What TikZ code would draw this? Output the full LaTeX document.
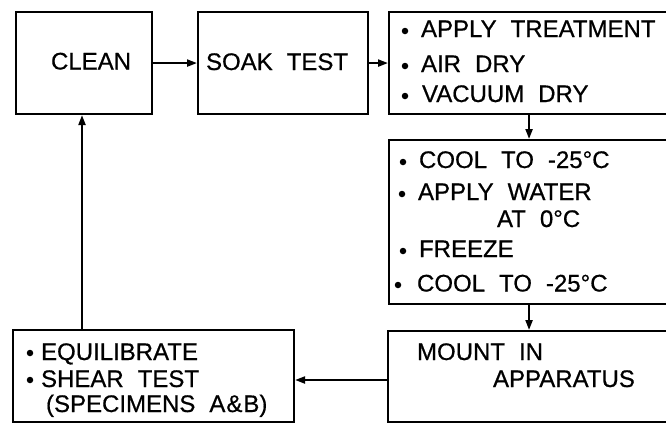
\documentclass[tikz,border=0pt]{standalone}
\usepackage{fontspec}
\setmainfont[FakeBold=0.6]{Liberation Sans}
\usetikzlibrary{arrows.meta}
\newcommand{\diagfont}{\fontsize{24}{28}\selectfont\spaceskip 14pt\relax}
\begin{document}
\begin{tikzpicture}[x=1pt,y=-1pt, line width=2.1pt,
  box/.style={draw, inner sep=0pt, anchor=north west},
  txt/.style={anchor=base west, inner sep=0pt, font={\diagfont}},
  dot/.style={circle, fill, draw=none, inner sep=0pt, minimum size=6.5pt},
  arr/.style={-{Triangle[length=10pt,width=7pt]}}]
\useasboundingbox (0,0) rectangle (666,424);
% boxes
\node[box, minimum width=136pt, minimum height=102pt] (clean) at (15,11) {};
\node[box, minimum width=170pt, minimum height=102pt] (soak) at (197,11) {};
\node[box, minimum width=280pt, minimum height=102pt] (treat) at (388,11) {};
\node[box, minimum width=280pt, minimum height=164pt] (cool) at (388,139) {};
\node[box, minimum width=281pt, minimum height=91pt] (mount) at (387,330) {};
\node[box, minimum width=281pt, minimum height=92pt] (shear) at (12,329) {};
% texts
\node[txt] (tclean) at (50,69.5) {CLEAN};
\node[txt] (tsoak) at (205,70) {SOAK TEST};
\node[txt] (t1) at (420,37) {APPLY TREATMENT};
\node[txt] (t2) at (420,72) {AIR DRY};
\node[txt] (t3) at (421,102) {VACUUM DRY};
\node[dot] (d1) at (405,31) {};
\node[dot] (d2) at (405,66) {};
\node[dot] (d3) at (405,96) {};
\node[txt] (c1) at (418,168) {COOL TO -25°C};
\node[txt] (c2) at (417,200) {APPLY WATER};
\node[txt] (c3) at (496,227) {AT 0°C};
\node[txt] (c4) at (418,257) {FREEZE};
\node[txt] (c5) at (416,291.5) {COOL TO -25°C};
\node[dot] (e1) at (403,162) {};
\node[dot] (e2) at (402,194) {};
\node[dot] (e4) at (403,251) {};
\node[dot] (e5) at (398,285) {};
\node[txt] (m1) at (416,360) {MOUNT IN};
\node[txt] (m2) at (492,387) {APPARATUS};
\node[txt] (s1) at (40,360) {EQUILIBRATE};
\node[txt] (s2) at (40,387) {SHEAR TEST};
\node[txt] (s3) at (45,412) {(SPECIMENS A\kern1pt\&\kern1pt B)};
\node[dot] (f1) at (30,353) {};
\node[dot] (f2) at (30,380) {};
% connectors
\draw[arr] (clean) -- (soak);
\draw[arr] (soak) -- (treat);
\draw[arr] (treat) -- (cool);
\draw[arr] (cool.south) -- (cool.south |- mount.north);
\draw[arr] (mount.west |- 0,380) -- (shear.east |- 0,380);
\draw[arr] (82,0 |- shear.north) -- (82,0 |- clean.south);
\end{tikzpicture}
\end{document}
